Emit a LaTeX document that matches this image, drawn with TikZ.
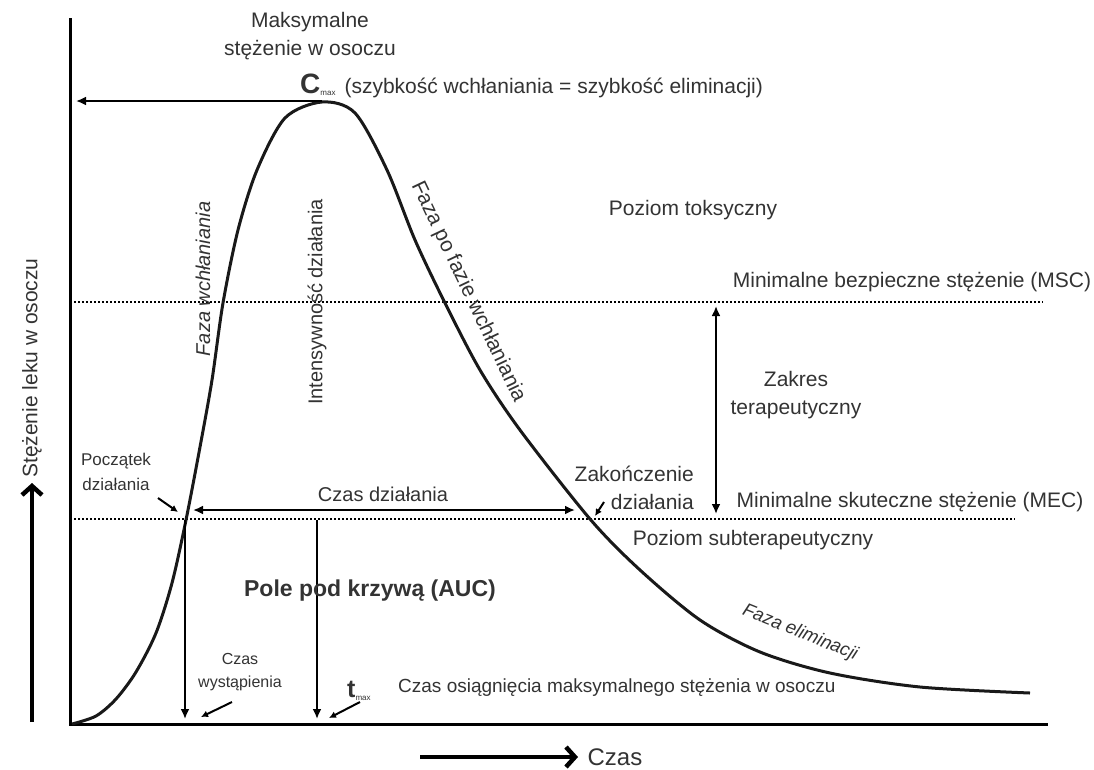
\documentclass[tikz,border=0pt]{standalone}
\usepackage{fontspec}
\setmainfont{Liberation Sans}
\usetikzlibrary{arrows.meta}

\begin{document}
\begin{tikzpicture}[x=1pt, y=-1pt]

\tikzset{lbl/.style={inner sep=0pt, align=center, text=black!80, font=\fontsize{21}{28}\selectfont}}
\tikzset{smalllbl/.style={lbl, font=\fontsize{16}{23}\selectfont}}
\tikzset{level/.style={line width=2pt, dash pattern=on 2pt off 2pt}}
\tikzset{thinarrow/.style={line width=2pt, -{Latex[length=10pt, width=9pt]}}}
\tikzset{bigarrow/.style={line width=4.5pt, -{Straight Barb[length=9pt, width=20pt]}}}

\useasboundingbox (0,0) rectangle (1094,769);

% axes
\coordinate (ytop) at (70, 18);
\coordinate (origin) at (70, 724);
\coordinate (xend) at (1048, 724);
\draw[line width=3pt] (ytop) -- (origin) -- (xend);

% axis captions
\coordinate (yfrom) at (32, 722);
\coordinate (yto) at (32, 483);
\draw[bigarrow] (yfrom) -- (yto);
\node[lbl, rotate=90] at (32, 368) (ylabel) {Stężenie leku w osoczu};
\coordinate (xfrom) at (420, 757);
\coordinate (xto) at (578, 757);
\draw[bigarrow] (xfrom) -- (xto);
\node[lbl, font=\fontsize{24}{28}\selectfont] at (615, 757) (xlabel) {Czas};

% concentration levels
\coordinate (mscstart) at (70, 302);
\coordinate (mscend) at (1043, 302);
\draw[level] (mscstart) -- (mscend);
\coordinate (mecstart) at (70, 519);
\coordinate (mecend) at (1015, 519);
\draw[level] (mecstart) -- (mecend);

% curve
\draw[line width=3pt, black!90] plot[smooth, tension=0.5] coordinates {
  (72,724) (96,716) (116,699) (136,672) (156,633) (172,583) (186,520)
  (200,447) (212,380) (223,303) (238,230) (257,170) (285,118) (322,102)
  (355,113) (387,170) (415,240) (445,303) (480,370) (520,430) (590,519)
  (640,570) (700,620) (760,652) (830,673) (920,687) (1030,693)};

% maximum
\node[lbl] at (310, 36) (cmaxtitle) {Maksymalne\\stężenie w osoczu};
\node[lbl, anchor=base west] at (300, 93) (cmax) {{\fontsize{28}{30}\selectfont\bfseries C}\raisebox{-2pt}{\fontsize{8}{9}\selectfont max}\hspace{9pt}(szybkość wchłaniania = szybkość eliminacji)};
\coordinate (peak) at (322, 101);
\coordinate (cmaxtip) at (76, 101);
\draw[thinarrow] (peak) -- (cmaxtip);

% levels text
\node[lbl] at (693, 210) (toxic) {Poziom toksyczny};
\node[lbl] at (912, 282) (msc) {Minimalne bezpieczne stężenie (MSC)};
\node[lbl] at (910, 502) (mec) {Minimalne skuteczne stężenie (MEC)};
\node[lbl] at (753, 540) (subtherapeutic) {Poziom subterapeutyczny};
\node[lbl] at (796, 395) (range) {Zakres\\terapeutyczny};
\coordinate (rangetop) at (716, 306);
\coordinate (rangebottom) at (716, 514);
\draw[thinarrow, {Latex[length=10pt, width=9pt]}-{Latex[length=10pt, width=9pt]}] (rangetop) -- (rangebottom);

% phases
\node[lbl, rotate=90, font=\fontsize{20}{24}\selectfont\itshape] at (203, 279) (absorption) {Faza wchłaniania};
\node[lbl, rotate=90, font=\fontsize{20}{24}\selectfont] at (317, 302) (intensity) {Intensywność działania};
\node[lbl, rotate=-64.6] at (468, 292) (postabsorption) {Faza po fazie wchłaniania};
\node[lbl, rotate=-22, font=\fontsize{18.5}{22}\selectfont\itshape] at (800, 633) (elimination) {Faza eliminacji};

% duration of action
\node[lbl, font=\fontsize{20}{24}\selectfont] at (383, 494) (duration) {Czas działania};
\coordinate (onset) at (193, 510);
\coordinate (offset) at (575, 510);
\draw[thinarrow, {Latex[length=10pt, width=9pt]}-{Latex[length=10pt, width=9pt]}] (onset) -- (offset);
\node[lbl, font=\fontsize{17}{25}\selectfont] at (116, 472) (onsetlbl) {Początek\\działania};
\coordinate (onsetfrom) at (158, 498);
\coordinate (onsetto) at (178, 512);
\draw[line width=2pt, -{Latex[length=7pt, width=7pt]}] (onsetfrom) -- (onsetto);
\node[lbl, align=right, anchor=east] at (694, 488) (endlbl) {Zakończenie\\działania};
\coordinate (endfrom) at (604, 502);
\coordinate (endto) at (595, 516);
\draw[line width=2pt, -{Latex[length=7pt, width=7pt]}] (endfrom) -- (endto);

% times
\coordinate (onsetcross) at (185, 520);
\coordinate (onsetfoot) at (185, 719);
\draw[thinarrow] (onsetcross) -- (onsetfoot);
\coordinate (tmaxtop) at (317, 520);
\coordinate (tmaxfoot) at (317, 719);
\draw[thinarrow] (tmaxtop) -- (tmaxfoot);
\node[smalllbl] at (240, 672) (onsettime) {Czas\\wystąpienia};
\coordinate (onsettimefrom) at (232, 702);
\coordinate (onsettimeto) at (201, 717);
\draw[line width=2pt, -{Latex[length=7pt, width=7pt]}] (onsettimefrom) -- (onsettimeto);
\node[lbl, anchor=base west] at (347, 697) (tmax) {{\fontsize{25}{28}\selectfont\bfseries t}\raisebox{-3pt}{\fontsize{8}{9}\selectfont max}};
\coordinate (tmaxfrom) at (360, 702);
\coordinate (tmaxto) at (329, 718);
\draw[line width=2pt, -{Latex[length=7pt, width=7pt]}] (tmaxfrom) -- (tmaxto);
\node[lbl, anchor=west, font=\fontsize{19}{24}\selectfont] at (398, 688) (tmaxtext) {Czas osiągnięcia maksymalnego stężenia w osoczu};

% area
\node[lbl, font=\fontsize{23}{28}\selectfont\bfseries] at (370, 591) (auc) {Pole pod krzywą (AUC)};

\end{tikzpicture}
\end{document}
